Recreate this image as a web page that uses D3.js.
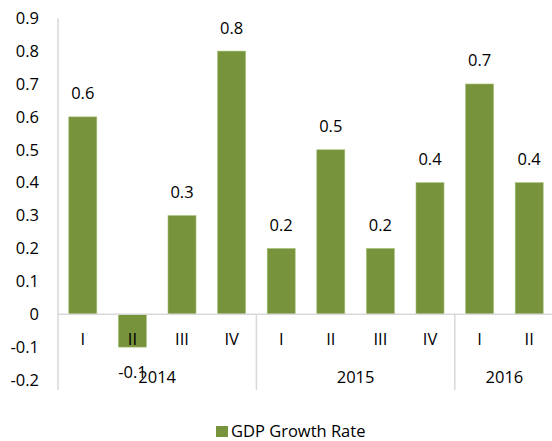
<!DOCTYPE html>
<html><head><meta charset="utf-8">
<script src="https://cdn.jsdelivr.net/npm/d3@7"></script>
<style>
body{margin:0;background:#fff;}
text{font-family:"Open Sans","Liberation Sans",sans-serif;fill:#000;}
</style></head>
<body>
<svg id="chart" width="552" height="441"></svg>
<script>
const quarters = ["I","II","III","IV","I","II","III","IV","I","II"];
const years = ["2014","2015","2016"];
const yearSpans = [4,4,2];
const values = [0.6,-0.1,0.3,0.8,0.2,0.5,0.2,0.4,0.7,0.4];
const yTicks = [0.9,0.8,0.7,0.6,0.5,0.4,0.3,0.2,0.1,0,-0.1,-0.2];
const seriesName = "GDP Growth Rate";

const svg = d3.select("#chart");
const fs = 16.5;
const color = "#77933C";
const gridColor = "#d9d9d9";
const fmt = d => d === 0 ? "0" : d3.format(".1f")(d).replace("\u2212", "-");

const x = d3.scaleBand().domain(d3.range(values.length)).range([58, 554]).paddingInner(0.435).paddingOuter(0.2175);
const y = d3.scaleLinear().domain([-0.2, 0.9]).range([380, 18.2]);
const step = x.step();

// y axis labels
const yAx = svg.append("g").attr("transform", "translate(58,0)")
  .call(d3.axisLeft(y).tickValues(yTicks).tickSize(0).tickPadding(19).tickFormat(fmt));
yAx.select(".domain").remove();
yAx.selectAll("text").attr("font-size", fs).attr("font-family", null);

// bars
svg.append("g").selectAll("rect").data(values).join("rect")
  .attr("x", (d,i) => x(i))
  .attr("width", x.bandwidth())
  .attr("y", d => y(Math.max(0,d)))
  .attr("height", d => Math.abs(y(d) - y(0)))
  .attr("fill", color)
  .attr("stroke", "#a9c27a").attr("stroke-width", 0.6);

// axis lines
svg.append("line").attr("x1",58).attr("x2",58).attr("y1",y(0.9)).attr("y2",390)
  .attr("stroke", gridColor).attr("stroke-width", 1.5);
svg.append("line").attr("x1",58).attr("x2",554).attr("y1",y(0)).attr("y2",y(0))
  .attr("stroke", gridColor).attr("stroke-width", 1.5);

// year separators
let cum = 0;
const seps = [];
yearSpans.forEach((s,i) => { seps.push(cum); cum += s; });
seps.push(cum);
svg.append("g").selectAll("line").data(seps.slice(1)).join("line")
  .attr("x1", d => 58 + d*step).attr("x2", d => 58 + d*step)
  .attr("y1", y(0)).attr("y2", 390)
  .attr("stroke", gridColor).attr("stroke-width", 1.5);

// quarter labels
const xAx = svg.append("g").attr("transform", `translate(0,${y(0)})`)
  .call(d3.axisBottom(x).tickSize(0).tickPadding(19).tickFormat(i => quarters[i]));
xAx.select(".domain").remove();
xAx.selectAll("text").attr("font-size", fs).attr("font-family", null);

// year labels
svg.append("g").selectAll("text").data(years).join("text")
  .attr("x", (d,i) => 58 + (seps[i] + yearSpans[i]/2)*step)
  .attr("y", 383)
  .attr("text-anchor", "middle").attr("font-size", fs)
  .text(d => d);

// data labels
svg.append("g").selectAll("text").data(values).join("text")
  .attr("x", (d,i) => x(i) + x.bandwidth()/2)
  .attr("y", d => d >= 0 ? y(d) - 17.5 : y(d) + 31)
  .attr("text-anchor", "middle").attr("font-size", fs)
  .text(fmt);

// legend
svg.append("rect").attr("x",216).attr("y",426).attr("width",12).attr("height",11).attr("fill",color);
svg.append("text").attr("x",231).attr("y",437).attr("font-size",fs).text(seriesName);
</script>
</body></html>
